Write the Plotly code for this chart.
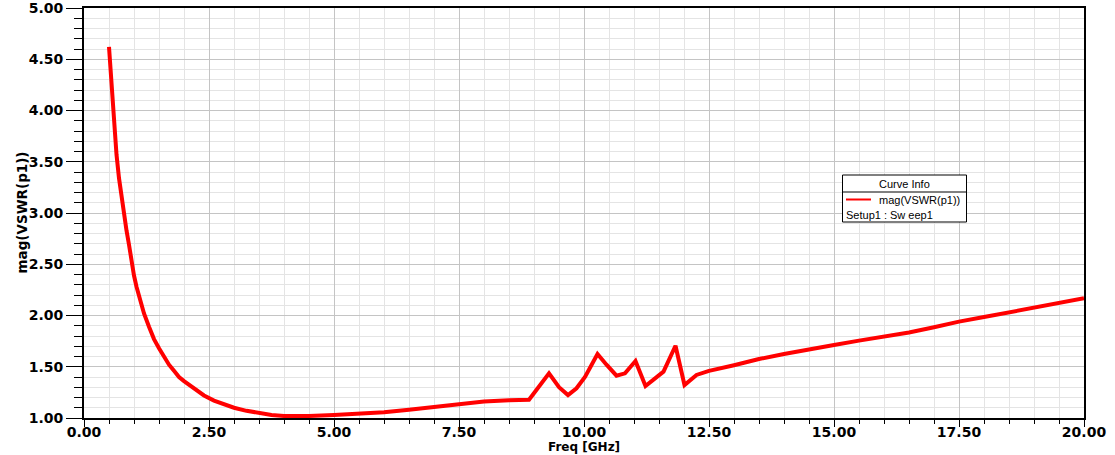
import plotly.graph_objects as go

# ---- data ----
freq_ghz = [0.5, 0.55, 0.6, 0.65, 0.7, 0.75, 0.8, 0.85, 0.9, 0.95, 1.0, 1.05, 1.1,
            1.2, 1.3, 1.4, 1.5, 1.6, 1.7, 1.8, 1.9, 2.0, 2.2, 2.4, 2.6, 2.8, 3.0,
            3.25, 3.5, 3.75, 4.0, 4.5, 5.0, 5.5, 6.0, 6.5, 7.0, 7.5, 8.0, 8.5, 8.9,
            9.3, 9.5, 9.68, 9.85, 10.02, 10.27, 10.45, 10.65, 10.82, 11.03, 11.23,
            11.4, 11.59, 11.83, 12.01, 12.25, 12.5, 13.0, 13.5, 14.0, 14.5, 15.0,
            15.5, 16.0, 16.5, 17.0, 17.5, 18.0, 18.5, 19.0, 19.5, 20.0]
vswr = [4.62, 4.25, 3.86, 3.57, 3.34, 3.15, 2.99, 2.83, 2.69, 2.52, 2.39, 2.28, 2.19,
        2.02, 1.89, 1.77, 1.68, 1.60, 1.52, 1.46, 1.40, 1.36, 1.29, 1.22, 1.17, 1.13, 1.10,
        1.07, 1.045, 1.03, 1.02, 1.02, 1.03, 1.04, 1.055, 1.08, 1.105, 1.135, 1.16, 1.172, 1.178,
        1.436, 1.30, 1.224, 1.29, 1.40, 1.624, 1.52, 1.413, 1.436, 1.556, 1.312,
        1.38, 1.452, 1.705, 1.322, 1.42, 1.46, 1.515, 1.575, 1.625, 1.665, 1.712,
        1.755, 1.795, 1.835, 1.885, 1.94, 1.985, 2.03, 2.08, 2.125, 2.168]

series_name = "mag(VSWR(p1))"
setup_label = "Setup1 : Sw eep1"
legend_title = "Curve Info"
x_title = "Freq [GHz]"
y_title = "mag(VSWR(p1))"

W, H = 1115, 455
L, R, T, B = 84, 31, 8, 37
PW, PH = W - L - R, H - T - B


def px(xp):
    return (xp - L) / PW


def py(yp):
    return (H - B - yp) / PH


RED = "#ff0000"
MAJ = "#c4c4c4"
MIN = "#e4e4e4"

fig = go.Figure()
fig.add_trace(go.Scatter(x=freq_ghz, y=vswr, mode="lines", name=series_name,
                         line=dict(color=RED, width=4), showlegend=False))

tickfont = dict(family="DejaVu Sans", size=14, color="black", weight="bold")

fig.update_xaxes(range=[0, 20], dtick=2.5, tick0=0, tickformat=".2f", automargin=False,
                 showgrid=True, gridcolor=MAJ, gridwidth=1,
                 ticks="outside", ticklen=7, tickcolor="black", tickwidth=1,
                 showline=True, linecolor="black", linewidth=2, mirror=True,
                 zeroline=False, tickfont=tickfont, ticklabelstandoff=-7,
                 ticklabeloverflow="allow",
                 minor=dict(dtick=0.5, showgrid=True, gridcolor=MIN, gridwidth=1,
                            ticks="outside", ticklen=4, tickcolor="black", tickwidth=1))
fig.update_yaxes(range=[1, 5], dtick=0.5, tick0=1, tickformat=".2f", automargin=False,
                 showgrid=True, gridcolor=MAJ, gridwidth=1,
                 ticks="outside", ticklen=16, tickcolor="black", tickwidth=1,
                 showline=True, linecolor="black", linewidth=2, mirror=True,
                 zeroline=False, tickfont=tickfont, ticklabelstandoff=0,
                 ticklabeloverflow="allow",
                 minor=dict(dtick=0.1, showgrid=True, gridcolor=MIN, gridwidth=1,
                            ticks="outside", ticklen=8, tickcolor="black", tickwidth=1))

annotations = [
    dict(text=y_title, xref="paper", yref="paper", x=0, y=0.5, xshift=21.5 - L,
         textangle=-90, showarrow=False, xanchor="center", yanchor="middle",
         font=dict(family="DejaVu Sans", size=13.5, color="black", weight="bold")),
    dict(text=x_title, xref="paper", yref="paper", x=0.5, y=0, yshift=-(446.5 - (H - B)),
         showarrow=False, xanchor="center", yanchor="middle",
         font=dict(family="DejaVu Sans", size=12, color="black", weight="bold")),
    dict(text=legend_title, xref="paper", yref="paper", x=px(904), y=py(183.5),
         showarrow=False, xanchor="center", yanchor="middle",
         font=dict(family="Liberation Sans", size=11, color="black")),
    dict(text=series_name, xref="paper", yref="paper", x=px(877.5), y=py(199.5),
         showarrow=False, xanchor="left", yanchor="middle",
         font=dict(family="Liberation Sans", size=11, color="black")),
    dict(text=setup_label, xref="paper", yref="paper", x=px(845), y=py(215),
         showarrow=False, xanchor="left", yanchor="middle",
         font=dict(family="Liberation Sans", size=11, color="black")),
]
for a in annotations:
    a["borderpad"] = 0

shapes = [
    dict(type="rect", xref="paper", yref="paper", x0=px(842.5), x1=px(966.5),
         y0=py(222), y1=py(175), line=dict(color="black", width=1), fillcolor="white",
         layer="above"),
    dict(type="line", xref="paper", yref="paper", x0=px(842.5), x1=px(966.5),
         y0=py(192), y1=py(192), line=dict(color="black", width=1), layer="above"),
    dict(type="line", xref="paper", yref="paper", x0=px(846), x1=px(871),
         y0=py(199.5), y1=py(199.5), line=dict(color=RED, width=2), layer="above"),
]

fig.update_layout(width=W, height=H, margin=dict(l=L, r=R, t=T, b=B, autoexpand=False),
                  paper_bgcolor="white", plot_bgcolor="white",
                  annotations=annotations, shapes=shapes, showlegend=False)

fig.write_html("out.html", config={"displayModeBar": False},
               post_script="document.body.style.margin='0';document.body.style.overflow='hidden';")
